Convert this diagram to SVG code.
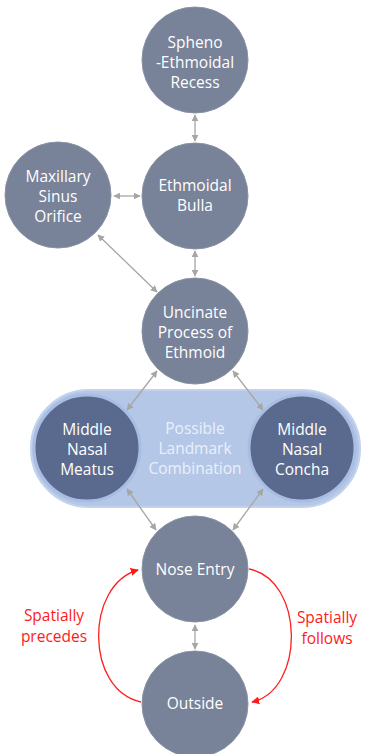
<svg xmlns="http://www.w3.org/2000/svg" width="369" height="754" viewBox="0 0 369 754">
<style>
.n{fill:#788298;stroke:#8a93a6;stroke-width:1}
.d{fill:#5a6a8e;stroke:#a9bde2;stroke-width:3}
.t{font-family:"Open Sans","Liberation Sans",sans-serif;font-size:15.5px;fill:#ffffff;text-anchor:middle}
.p{font-family:"Open Sans","Liberation Sans",sans-serif;font-size:15.5px;fill:#eaf0fa;text-anchor:middle}
.r{font-family:"Open Sans","Liberation Sans",sans-serif;font-size:15.5px;fill:#ff1a1a;text-anchor:middle}
.c{stroke:#a6a6a6;stroke-width:1.3;fill:none;marker-start:url(#ga);marker-end:url(#ga)}
.rc{stroke:#ff2020;stroke-width:1.3;fill:none;marker-end:url(#ra)}
</style>
<defs>
<marker id="ga" viewBox="0 0 10 10" refX="9" refY="5" markerWidth="7" markerHeight="7" orient="auto-start-reverse" markerUnits="userSpaceOnUse"><path d="M0,0 L10,5 L0,10 z" fill="#a6a6a6"/></marker>
<marker id="ra" viewBox="0 0 10 10" refX="9" refY="5" markerWidth="8" markerHeight="8" orient="auto" markerUnits="userSpaceOnUse"><path d="M0,0 L10,5 L0,10 z" fill="#ff1a1a"/></marker>
</defs>
<rect width="369" height="754" fill="#ffffff"/>
<g id="pill"><rect x="31" y="390" width="329" height="117" rx="58" fill="#b4c7e7" stroke="#c3d3ee" stroke-width="2"/>
<text class="p" x="195" y="434">Possible</text><text class="p" x="195" y="454">Landmark</text><text class="p" x="195" y="474">Combination</text></g>
<g id="connectors">
<line class="c" x1="195" y1="115" x2="195" y2="141"/>
<line class="c" x1="114" y1="196" x2="140" y2="196"/>
<line class="c" x1="98" y1="235" x2="157" y2="292"/>
<line class="c" x1="195" y1="251" x2="195" y2="276"/>
<line class="c" x1="157" y1="371" x2="127" y2="410"/>
<line class="c" x1="233" y1="371" x2="263" y2="410"/>
<line class="c" x1="127" y1="489" x2="156" y2="530"/>
<line class="c" x1="263" y1="489" x2="233" y2="530"/>
<line class="c" x1="195" y1="625" x2="195" y2="649"/>
<path class="rc" d="M141,702 C85,690 85,585 138,570"/>
<path class="rc" d="M249,569 C305,580 305,690 252,702"/>
</g>
<g id="spheno"><circle class="n" cx="195" cy="60" r="53"/><text class="t" x="195" y="48">Spheno</text><text class="t" x="195" y="68">-Ethmoidal</text><text class="t" x="195" y="88">Recess</text></g>
<g id="bulla"><circle class="n" cx="195" cy="196" r="53"/><text class="t" x="195" y="191">Ethmoidal</text><text class="t" x="195" y="211">Bulla</text></g>
<g id="maxillary"><circle class="n" cx="58" cy="195" r="53"/><text class="t" x="58" y="182">Maxillary</text><text class="t" x="58" y="202">Sinus</text><text class="t" x="58" y="222">Orifice</text></g>
<g id="uncinate"><circle class="n" cx="195" cy="331" r="53"/><text class="t" x="195" y="318">Uncinate</text><text class="t" x="195" y="338">Process of</text><text class="t" x="195" y="358">Ethmoid</text></g>
<g id="meatus"><circle class="d" cx="87" cy="448" r="53"/><text class="t" x="87" y="435">Middle</text><text class="t" x="87" y="455">Nasal</text><text class="t" x="87" y="475">Meatus</text></g>
<g id="concha"><circle class="d" cx="302" cy="448" r="53"/><text class="t" x="302" y="435">Middle</text><text class="t" x="302" y="455">Nasal</text><text class="t" x="302" y="475">Concha</text></g>
<g id="nose"><circle class="n" cx="195" cy="569" r="53"/><text class="t" x="195" y="575">Nose Entry</text></g>
<g id="outside"><circle class="n" cx="195" cy="704" r="53"/><text class="t" x="195" y="709">Outside</text></g>
<g id="labels"><text class="r" x="54" y="621">Spatially</text><text class="r" x="54" y="642">precedes</text>
<text class="r" x="327" y="623">Spatially</text><text class="r" x="327" y="644">follows</text></g>
</svg>
